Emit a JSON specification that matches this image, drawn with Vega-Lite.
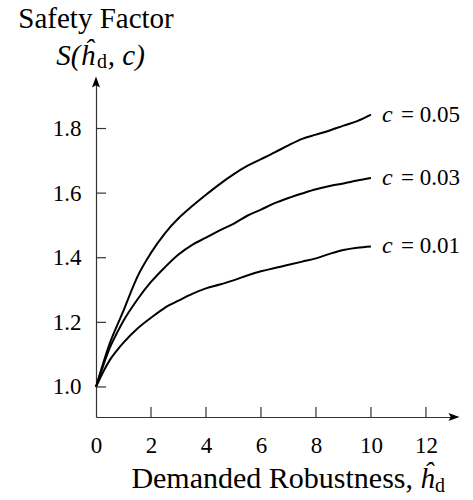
{
  "$schema": "https://vega.github.io/schema/vega-lite/v6.json",
  "autosize": "none",
  "width": 358,
  "height": 335,
  "padding": {"left": 96, "top": 82, "right": 19, "bottom": 83},
  "background": "white",
  "config": {"view": {"stroke": null}, "font": "Liberation Serif"},
  "datasets": {
    "xticks": [{"v": 2}, {"v": 4}, {"v": 6}, {"v": 8}, {"v": 10}, {"v": 12}],
    "yticks": [{"v": 1.0}, {"v": 1.2}, {"v": 1.4}, {"v": 1.6}, {"v": 1.8}],
    "curves": [
      {"h": 0, "S": 1.0, "series": "c = 0.05"},
      {"h": 0.25, "S": 1.07, "series": "c = 0.05"},
      {"h": 0.5, "S": 1.135, "series": "c = 0.05"},
      {"h": 0.75, "S": 1.187, "series": "c = 0.05"},
      {"h": 1.0, "S": 1.236, "series": "c = 0.05"},
      {"h": 1.25, "S": 1.29, "series": "c = 0.05"},
      {"h": 1.5, "S": 1.34, "series": "c = 0.05"},
      {"h": 2.0, "S": 1.415, "series": "c = 0.05"},
      {"h": 2.5, "S": 1.475, "series": "c = 0.05"},
      {"h": 3.0, "S": 1.522, "series": "c = 0.05"},
      {"h": 3.5, "S": 1.56, "series": "c = 0.05"},
      {"h": 4.0, "S": 1.595, "series": "c = 0.05"},
      {"h": 4.5, "S": 1.628, "series": "c = 0.05"},
      {"h": 5.0, "S": 1.658, "series": "c = 0.05"},
      {"h": 5.5, "S": 1.684, "series": "c = 0.05"},
      {"h": 6.0, "S": 1.705, "series": "c = 0.05"},
      {"h": 6.5, "S": 1.726, "series": "c = 0.05"},
      {"h": 7.0, "S": 1.748, "series": "c = 0.05"},
      {"h": 7.5, "S": 1.768, "series": "c = 0.05"},
      {"h": 8.0, "S": 1.781, "series": "c = 0.05"},
      {"h": 8.5, "S": 1.794, "series": "c = 0.05"},
      {"h": 9.0, "S": 1.809, "series": "c = 0.05"},
      {"h": 9.5, "S": 1.823, "series": "c = 0.05"},
      {"h": 10.0, "S": 1.843, "series": "c = 0.05"},
      {"h": 0, "S": 1.0, "series": "c = 0.03"},
      {"h": 0.25, "S": 1.063, "series": "c = 0.03"},
      {"h": 0.5, "S": 1.121, "series": "c = 0.03"},
      {"h": 0.75, "S": 1.165, "series": "c = 0.03"},
      {"h": 1.0, "S": 1.205, "series": "c = 0.03"},
      {"h": 1.5, "S": 1.27, "series": "c = 0.03"},
      {"h": 2.0, "S": 1.325, "series": "c = 0.03"},
      {"h": 2.5, "S": 1.37, "series": "c = 0.03"},
      {"h": 3.0, "S": 1.41, "series": "c = 0.03"},
      {"h": 3.5, "S": 1.44, "series": "c = 0.03"},
      {"h": 4.0, "S": 1.462, "series": "c = 0.03"},
      {"h": 4.5, "S": 1.485, "series": "c = 0.03"},
      {"h": 5.0, "S": 1.505, "series": "c = 0.03"},
      {"h": 5.5, "S": 1.53, "series": "c = 0.03"},
      {"h": 6.0, "S": 1.549, "series": "c = 0.03"},
      {"h": 6.5, "S": 1.569, "series": "c = 0.03"},
      {"h": 7.0, "S": 1.585, "series": "c = 0.03"},
      {"h": 7.5, "S": 1.599, "series": "c = 0.03"},
      {"h": 8.0, "S": 1.612, "series": "c = 0.03"},
      {"h": 8.5, "S": 1.622, "series": "c = 0.03"},
      {"h": 9.0, "S": 1.63, "series": "c = 0.03"},
      {"h": 9.5, "S": 1.639, "series": "c = 0.03"},
      {"h": 10.0, "S": 1.647, "series": "c = 0.03"},
      {"h": 0, "S": 1.0, "series": "c = 0.01"},
      {"h": 0.25, "S": 1.045, "series": "c = 0.01"},
      {"h": 0.5, "S": 1.083, "series": "c = 0.01"},
      {"h": 0.75, "S": 1.112, "series": "c = 0.01"},
      {"h": 1.0, "S": 1.137, "series": "c = 0.01"},
      {"h": 1.5, "S": 1.18, "series": "c = 0.01"},
      {"h": 2.0, "S": 1.214, "series": "c = 0.01"},
      {"h": 2.5, "S": 1.245, "series": "c = 0.01"},
      {"h": 3.0, "S": 1.267, "series": "c = 0.01"},
      {"h": 3.5, "S": 1.288, "series": "c = 0.01"},
      {"h": 4.0, "S": 1.305, "series": "c = 0.01"},
      {"h": 4.5, "S": 1.317, "series": "c = 0.01"},
      {"h": 5.0, "S": 1.33, "series": "c = 0.01"},
      {"h": 5.5, "S": 1.345, "series": "c = 0.01"},
      {"h": 6.0, "S": 1.358, "series": "c = 0.01"},
      {"h": 6.5, "S": 1.368, "series": "c = 0.01"},
      {"h": 7.0, "S": 1.378, "series": "c = 0.01"},
      {"h": 7.5, "S": 1.388, "series": "c = 0.01"},
      {"h": 8.0, "S": 1.398, "series": "c = 0.01"},
      {"h": 8.5, "S": 1.412, "series": "c = 0.01"},
      {"h": 9.0, "S": 1.424, "series": "c = 0.01"},
      {"h": 9.5, "S": 1.431, "series": "c = 0.01"},
      {"h": 10.0, "S": 1.435, "series": "c = 0.01"}
    ]
  },
  "layer": [
    {
      "data": {"name": "curves"},
      "mark": {"type": "line", "color": "black", "strokeWidth": 2, "interpolate": "monotone"},
      "encoding": {
        "x": {
          "field": "h", "type": "quantitative",
          "scale": {"domain": [0, 13.02], "nice": false, "zero": false},
          "axis": {
            "values": [0, 2, 4, 6, 8, 10, 12],
            "title": null, "grid": false, "ticks": false,
            "domainColor": "#333", "domainWidth": 1.2,
            "labelFont": "Liberation Serif", "labelFontSize": 23, "labelColor": "black",
            "labelPadding": 17, "labelFlush": false
          }
        },
        "y": {
          "field": "S", "type": "quantitative",
          "scale": {"domain": [0.907, 1.944], "nice": false, "zero": false},
          "axis": {
            "values": [1.0, 1.2, 1.4, 1.6, 1.8], "format": ".1f",
            "title": null, "grid": false, "ticks": false,
            "domainColor": "#333", "domainWidth": 1.2,
            "labelFont": "Liberation Serif", "labelFontSize": 23, "labelColor": "black",
            "labelPadding": 15, "labelFlush": false
          }
        },
        "detail": {"field": "series"}
      }
    },
    {
      "data": {"name": "xticks"},
      "mark": {"type": "tick", "orient": "vertical", "size": 10, "thickness": 1.2, "color": "#333", "opacity": 1},
      "encoding": {
        "x": {"field": "v", "type": "quantitative"},
        "y": {"datum": 0.9225}
      }
    },
    {
      "data": {"name": "yticks"},
      "mark": {"type": "tick", "orient": "horizontal", "size": 10, "thickness": 1.2, "color": "#333", "opacity": 1},
      "encoding": {
        "x": {"datum": 0.182},
        "y": {"field": "v", "type": "quantitative"}
      }
    },
    {
      "data": {"name": "curves"},
      "transform": [{"filter": "datum.h == 10"}],
      "mark": {"type": "text", "align": "left", "baseline": "middle", "dx": 11, "font": "Liberation Serif", "fontStyle": "italic", "fontSize": 24, "color": "black"},
      "encoding": {
        "x": {"field": "h", "type": "quantitative"},
        "y": {"field": "S", "type": "quantitative"},
        "text": {"value": "c"}
      }
    },
    {
      "data": {"name": "curves"},
      "transform": [
        {"filter": "datum.h == 10"},
        {"calculate": "substring(datum.series, 2)", "as": "rest"}
      ],
      "mark": {"type": "text", "align": "left", "baseline": "middle", "dx": 30, "font": "Liberation Serif", "fontSize": 23, "color": "black"},
      "encoding": {
        "x": {"field": "h", "type": "quantitative"},
        "y": {"field": "S", "type": "quantitative"},
        "text": {"field": "rest"}
      }
    },
    {
      "data": {"values": [{}]},
      "mark": {"type": "point", "shape": "M0,-1L0.73,1L0,0.6L-0.73,1Z", "size": 121, "filled": true, "color": "black", "opacity": 1},
      "encoding": {
        "x": {"datum": 0},
        "y": {"datum": 1.944}
      }
    },
    {
      "data": {"values": [{}]},
      "mark": {"type": "point", "shape": "M1,0L-1,0.73L-0.6,0L-1,-0.73Z", "size": 121, "filled": true, "color": "black", "opacity": 1},
      "encoding": {
        "x": {"datum": 13.02},
        "y": {"datum": 0.907}
      }
    },
    {
      "data": {"values": [{}]},
      "mark": {"type": "text", "align": "center", "baseline": "alphabetic", "font": "Liberation Serif", "fontSize": 29, "color": "black"},
      "encoding": {
        "x": {"datum": 0},
        "y": {"datum": 2.112},
        "text": {"value": "Safety Factor"}
      }
    },
    {
      "data": {"values": [{}]},
      "mark": {"type": "text", "align": "right", "baseline": "alphabetic", "font": "Liberation Serif", "fontStyle": "italic", "fontSize": 29, "color": "black"},
      "encoding": {
        "x": {"datum": -0.04},
        "y": {"datum": 1.997},
        "text": {"value": "S(ĥ"}
      }
    },
    {
      "data": {"values": [{}]},
      "mark": {"type": "text", "align": "left", "baseline": "alphabetic", "font": "Liberation Serif", "fontSize": 20, "color": "black"},
      "encoding": {
        "x": {"datum": 0.04},
        "y": {"datum": 1.987},
        "text": {"value": "d"}
      }
    },
    {
      "data": {"values": [{}]},
      "mark": {"type": "text", "align": "left", "baseline": "alphabetic", "font": "Liberation Serif", "fontStyle": "italic", "fontSize": 29, "color": "black"},
      "encoding": {
        "x": {"datum": 0.43},
        "y": {"datum": 1.997},
        "text": {"value": ", c)"}
      }
    },
    {
      "data": {"values": [{}]},
      "mark": {"type": "text", "align": "right", "baseline": "alphabetic", "font": "Liberation Serif", "fontSize": 30, "color": "black"},
      "encoding": {
        "x": {"datum": 11.53},
        "y": {"datum": 0.687},
        "text": {"value": "Demanded Robustness,"}
      }
    },
    {
      "data": {"values": [{}]},
      "mark": {"type": "text", "align": "left", "baseline": "alphabetic", "font": "Liberation Serif", "fontStyle": "italic", "fontSize": 29, "color": "black"},
      "encoding": {
        "x": {"datum": 11.78},
        "y": {"datum": 0.687},
        "text": {"value": "ĥ"}
      }
    },
    {
      "data": {"values": [{}]},
      "mark": {"type": "text", "align": "left", "baseline": "alphabetic", "font": "Liberation Serif", "fontSize": 20, "color": "black"},
      "encoding": {
        "x": {"datum": 12.33},
        "y": {"datum": 0.675},
        "text": {"value": "d"}
      }
    }
  ]
}
